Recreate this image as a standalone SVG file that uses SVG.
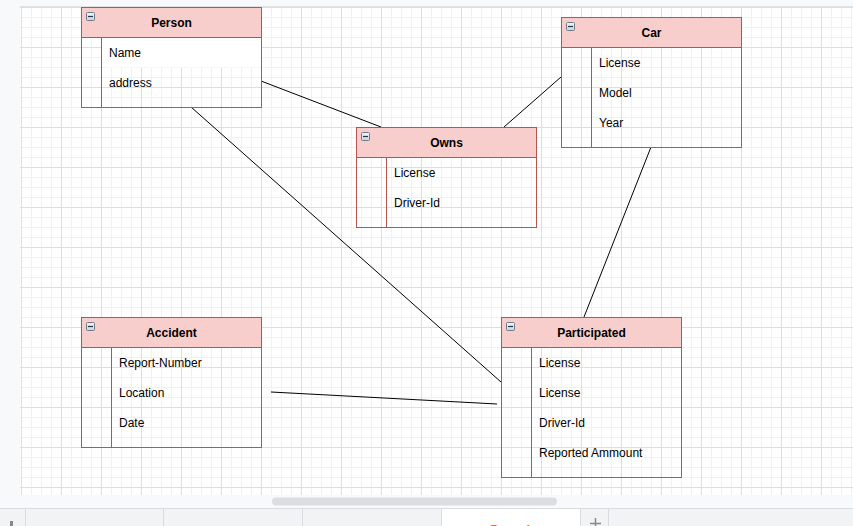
<svg xmlns="http://www.w3.org/2000/svg" width="853" height="526" viewBox="0 0 853 526">
<defs>
<pattern id="grid" patternUnits="userSpaceOnUse" x="21" y="7" width="40" height="40">
<path d="M10.5 0V40M20.5 0V40M30.5 0V40M0 10.5H40M0 20.5H40M0 30.5H40" stroke="#f1f1f1" stroke-width="1" fill="none"/>
<path d="M0.5 0V40M0 0.5H40" stroke="#dedede" stroke-width="1" fill="none"/>
</pattern>
<linearGradient id="ic" x1="0" y1="0" x2="0" y2="1">
<stop offset="0" stop-color="#f4f6f9"/>
<stop offset="1" stop-color="#c9d2dc"/>
</linearGradient>
<g id="collapse">
<rect x="0.5" y="0.5" width="8" height="8" rx="1" fill="url(#ic)" stroke="#6f7c8b"/>
<path d="M2 4.5H7" stroke="#2b3440" stroke-width="1.2"/>
</g>
</defs>
<style>
.tb{fill:none;stroke:#b85450;stroke-width:1}
.hd{fill:#f8cecc;stroke:#b85450;stroke-width:1}
.t{font-family:"Liberation Sans",Arial,sans-serif;font-size:12px;fill:#000}
.h{font-family:"Liberation Sans",Arial,sans-serif;font-size:12px;font-weight:bold;fill:#000;text-anchor:middle}
.ln{stroke:#000;stroke-width:1;fill:none}
</style>
<rect width="853" height="526" fill="#f8f9fa"/>
<rect x="20" y="6" width="833" height="1" fill="#e2e3e5"/>
<rect x="20" y="7" width="833" height="488" fill="#ffffff"/>
<rect x="20" y="7" width="833" height="488" fill="url(#grid)"/>
<rect x="272" y="497.5" width="285" height="8" rx="4" fill="#dcdde0"/>
<rect x="0" y="508" width="853" height="18" fill="#f1f3f4"/>
<rect x="0" y="508" width="853" height="1" fill="#dadce0"/>
<rect x="442" y="509" width="138" height="17" fill="#ffffff"/>
<path d="M25.5 509V526M163.5 509V526M302.5 509V526M441.5 509V526M580.5 509V526M608.5 509V526" stroke="#dadce0"/>
<rect x="10" y="521" width="3" height="5" fill="#888"/>
<path d="M595.5 518V526M590 523.5H601" stroke="#888" stroke-width="1.5"/>
<text x="511" y="534" class="t" style="fill:#e8710a;font-size:13px;text-anchor:middle">Page-1</text>

<g id="connectors">
<path class="ln" d="M261 81L381 127"/>
<path class="ln" d="M561 77L504 127"/>
<path class="ln" d="M191 107L501 382"/>
<path class="ln" d="M651 147L584 317"/>
<path class="ln" d="M271 392L497 404"/>
</g>

<g id="person">
<rect x="101.5" y="37.5" width="160" height="30" fill="#ffffff"/>
<rect class="hd" x="81.5" y="7.5" width="180" height="30"/>
<rect class="tb" x="81.5" y="37.5" width="180" height="70"/>
<path class="tb" d="M101.5 37.5V107.5"/>
<use href="#collapse" x="86" y="12"/>
<text class="h" x="171.5" y="27">Person</text>
<text class="t" x="109" y="57">Name</text>
<text class="t" x="109" y="87">address</text>
</g>

<g id="car">
<rect class="hd" x="561.5" y="17.5" width="180" height="30"/>
<rect class="tb" x="561.5" y="47.5" width="180" height="100"/>
<path class="tb" d="M591.5 47.5V147.5"/>
<use href="#collapse" x="566" y="22"/>
<text class="h" x="651.5" y="37">Car</text>
<text class="t" x="599" y="67">License</text>
<text class="t" x="599" y="97">Model</text>
<text class="t" x="599" y="127">Year</text>
</g>

<g id="owns">
<rect class="hd" x="356.5" y="127.5" width="180" height="30"/>
<rect x="356.5" y="157.5" width="180" height="70" fill="#ffffff" fill-opacity="0"/>
<rect class="tb" x="356.5" y="157.5" width="180" height="70"/>
<path class="tb" d="M386.5 157.5V227.5"/>
<use href="#collapse" x="361" y="132"/>
<text class="h" x="446.5" y="147">Owns</text>
<text class="t" x="394" y="177">License</text>
<text class="t" x="394" y="207">Driver-Id</text>
</g>

<g id="accident">
<rect class="hd" x="81.5" y="317.5" width="180" height="30"/>
<rect class="tb" x="81.5" y="347.5" width="180" height="100"/>
<path class="tb" d="M111.5 347.5V447.5"/>
<use href="#collapse" x="86" y="322"/>
<text class="h" x="171.5" y="337">Accident</text>
<text class="t" x="119" y="367">Report-Number</text>
<text class="t" x="119" y="397">Location</text>
<text class="t" x="119" y="427">Date</text>
</g>

<g id="participated">
<rect class="hd" x="501.5" y="317.5" width="180" height="30"/>
<rect class="tb" x="501.5" y="347.5" width="180" height="130"/>
<path class="tb" d="M531.5 347.5V477.5"/>
<use href="#collapse" x="506" y="322"/>
<text class="h" x="591.5" y="337">Participated</text>
<text class="t" x="539" y="367">License</text>
<text class="t" x="539" y="397">License</text>
<text class="t" x="539" y="427">Driver-Id</text>
<text class="t" x="539" y="457">Reported Ammount</text>
</g>
</svg>
